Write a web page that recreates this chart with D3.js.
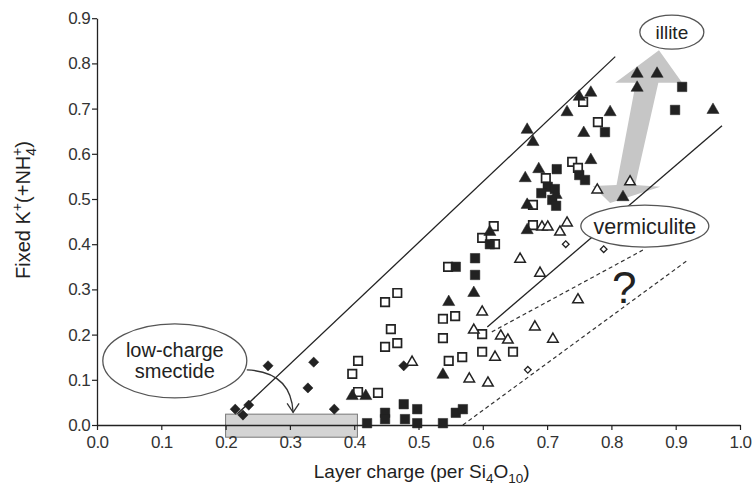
<!DOCTYPE html>
<html>
<head>
<meta charset="utf-8">
<script src="https://cdn.jsdelivr.net/npm/d3@7/dist/d3.min.js"></script>
<style>
  html, body { margin: 0; padding: 0; background: #fff; }
  svg { display: block; font-family: "Liberation Sans", Arial, Helvetica, sans-serif; }
</style>
</head>
<body>
<svg id="chart" width="754" height="491"></svg>
<script>
// Layer charge (x) vs fixed K+(+NH4+) (y), one array per sample group
const xTicks = [0.0, 0.1, 0.2, 0.3, 0.4, 0.5, 0.6, 0.7, 0.8, 0.9, 1.0];
const yTicks = [0.0, 0.1, 0.2, 0.3, 0.4, 0.5, 0.6, 0.7, 0.8, 0.9];

const filledDiamonds = [
  [0.215, 0.035], [0.227, 0.022], [0.236, 0.044], [0.266, 0.131],
  [0.337, 0.139], [0.328, 0.082], [0.369, 0.035], [0.477, 0.131]
];
const openDiamonds = [
  [0.729, 0.400], [0.788, 0.389], [0.670, 0.122]
];
const filledSquares = [
  [0.420, 0.004], [0.448, 0.027], [0.448, 0.013], [0.477, 0.046],
  [0.498, 0.035], [0.479, 0.013], [0.498, 0.004], [0.538, 0.004],
  [0.558, 0.027], [0.569, 0.035], [0.558, 0.350], [0.588, 0.369],
  [0.588, 0.332], [0.611, 0.400], [0.715, 0.566], [0.701, 0.527],
  [0.712, 0.522], [0.708, 0.498], [0.714, 0.485], [0.691, 0.513],
  [0.750, 0.553], [0.759, 0.542], [0.790, 0.648], [0.910, 0.748],
  [0.899, 0.697]
];
const openSquares = [
  [0.467, 0.292], [0.448, 0.272], [0.457, 0.212], [0.467, 0.181],
  [0.448, 0.173], [0.406, 0.142], [0.397, 0.113], [0.406, 0.073],
  [0.437, 0.071], [0.538, 0.235], [0.557, 0.241], [0.538, 0.192],
  [0.547, 0.142], [0.568, 0.150], [0.546, 0.350], [0.599, 0.201],
  [0.599, 0.162], [0.647, 0.162], [0.617, 0.440], [0.599, 0.414],
  [0.619, 0.400], [0.698, 0.546], [0.678, 0.487], [0.678, 0.442],
  [0.739, 0.582], [0.748, 0.569], [0.756, 0.715], [0.779, 0.670]
];
const filledTriangles = [
  [0.397, 0.064], [0.418, 0.064], [0.538, 0.111], [0.547, 0.272],
  [0.586, 0.292], [0.611, 0.427], [0.669, 0.653], [0.678, 0.626],
  [0.666, 0.546], [0.687, 0.566], [0.669, 0.487], [0.714, 0.509],
  [0.669, 0.431], [0.731, 0.692], [0.750, 0.726], [0.768, 0.735],
  [0.798, 0.692], [0.757, 0.646], [0.768, 0.586], [0.818, 0.504],
  [0.840, 0.777], [0.871, 0.777], [0.840, 0.746], [0.958, 0.697]
];
const openTriangles = [
  [0.490, 0.139], [0.579, 0.102], [0.586, 0.210], [0.599, 0.250],
  [0.628, 0.197], [0.639, 0.188], [0.619, 0.150], [0.608, 0.093],
  [0.658, 0.367], [0.689, 0.336], [0.681, 0.217], [0.709, 0.190],
  [0.748, 0.277], [0.692, 0.438], [0.701, 0.438], [0.720, 0.427],
  [0.731, 0.447], [0.778, 0.520], [0.829, 0.538]
];

// Boundary lines (layer charge, fixed K) end points
const solidLines = [
  [[0.200, 0.000], [0.806, 0.815]],
  [[0.607, 0.217], [0.972, 0.662]]
];
const dashedLines = [
  [[0.614, 0.206], [0.849, 0.387]],
  [[0.569, 0.000], [0.919, 0.365]]
];

const svg = d3.select("#chart");
const x = d3.scaleLinear().domain([0, 1]).range([97, 740]);
const y = d3.scaleLinear().domain([0, 0.9]).range([425, 18.2]);
const ink = "#222";
const font = '"Liberation Sans", Arial, sans-serif';

// Grey double-headed arrow between vermiculite and illite
const arrowOutline = [
  [0.874, 0.829],   // top tip
  [0.910, 0.757],   // top barb right
  [0.873, 0.757],   // shaft top right
  [0.837, 0.531],   // shaft bottom right
  [0.876, 0.527],   // bottom barb right
  [0.798, 0.491],   // bottom tip
  [0.771, 0.529],   // bottom barb left
  [0.808, 0.531],   // shaft bottom left
  [0.838, 0.757],   // shaft top left
  [0.806, 0.757]    // top barb left
];
svg.append("path")
  .attr("d", d3.line().x(d => x(d[0])).y(d => y(d[1]))(arrowOutline) + "Z")
  .attr("fill", "#c6c6c6")
  .attr("stroke", "none");

// Boundary lines
svg.selectAll("line.solid").data(solidLines).join("line")
  .attr("class", "solid")
  .attr("x1", d => x(d[0][0])).attr("y1", d => y(d[0][1]))
  .attr("x2", d => x(d[1][0])).attr("y2", d => y(d[1][1]))
  .attr("stroke", ink).attr("stroke-width", 1.3);
svg.selectAll("line.dashed").data(dashedLines).join("line")
  .attr("class", "dashed")
  .attr("x1", d => x(d[0][0])).attr("y1", d => y(d[0][1]))
  .attr("x2", d => x(d[1][0])).attr("y2", d => y(d[1][1]))
  .attr("stroke", "#333").attr("stroke-width", 1.2)
  .attr("stroke-dasharray", "4,3");

// Low-charge smectite range box on the axis
svg.append("rect")
  .attr("x", x(0.2)).attr("y", y(0.024))
  .attr("width", x(0.405) - x(0.2)).attr("height", y(-0.027) - y(0.024))
  .attr("fill", "#d4d4d4").attr("stroke", "#777").attr("stroke-width", 1);

// Axes
const xAxis = d3.axisBottom(x).tickValues(xTicks).tickFormat(d3.format(".1f"))
  .tickSizeOuter(0).tickSizeInner(5).tickPadding(3);
const yAxis = d3.axisLeft(y).tickValues(yTicks).tickFormat(d3.format(".1f"))
  .tickSizeOuter(0).tickSizeInner(5).tickPadding(2);

const gx = svg.append("g").attr("transform", `translate(0,${y(0)})`).call(xAxis);
const gy = svg.append("g").attr("transform", `translate(${x(0)},0)`).call(yAxis);
[gx, gy].forEach(g => {
  g.select(".domain").attr("stroke", ink).attr("stroke-width", 1.3);
  g.selectAll(".tick line").attr("stroke", ink).attr("stroke-width", 1.2);
  g.selectAll(".tick text").attr("fill", "#333").attr("font-size", 17)
    .attr("font-family", font).attr("letter-spacing", -0.6);
});
gx.selectAll(".tick text").attr("dy", "0.9em");

// Markers
const sq = d3.symbol().type(d3.symbolSquare);
const tri = d3.symbol().type(d3.symbolTriangle);
function plot(data, path, fill, stroke, sw, rotate) {
  svg.append("g").selectAll("path").data(data).join("path")
    .attr("d", path)
    .attr("transform", d => `translate(${x(d[0])},${y(d[1])})${rotate ? " rotate(45)" : ""}`)
    .attr("fill", fill).attr("stroke", stroke).attr("stroke-width", sw);
}
plot(openSquares, sq.size(72)(), "#fff", ink, 1.7, false);
plot(filledSquares, sq.size(90)(), ink, ink, 0.5, false);
plot(openTriangles, tri.size(48)(), "#fff", ink, 1.5, false);
plot(filledTriangles, tri.size(64)(), ink, ink, 0.5, false);
plot(filledDiamonds, sq.size(52)(), ink, ink, 0.5, true);
plot(openDiamonds, sq.size(22)(), "#fff", ink, 1.3, true);

// Labels in ellipses
function bubble(cx, cy, rx, ry, lines, size) {
  svg.append("ellipse").attr("cx", cx).attr("cy", cy).attr("rx", rx).attr("ry", ry)
    .attr("fill", "#fff").attr("stroke", "#555").attr("stroke-width", 1.3);
  const t = svg.append("text").attr("text-anchor", "middle").attr("font-size", size)
    .attr("font-family", font).attr("fill", "#222");
  lines.forEach((s, i) => {
    t.append("tspan").attr("x", cx)
      .attr("y", cy + (i - (lines.length - 1) / 2) * size * 1.05 + size * 0.35)
      .text(s);
  });
}
bubble(x(0.894), y(0.869), 32, 17, ["illite"], 19);
bubble(x(0.852), y(0.440), 64, 21, ["vermiculite"], 21.5);
bubble(x(0.121), y(0.142), 72, 37, ["low-charge", "smectide"], 20);

// Curved pointer from the smectite label to the box
const px0 = x(0.233), py0 = y(0.122);
const tipX = x(0.305), tipY = y(0.028);
svg.append("path")
  .attr("d", `M${px0},${py0} Q${tipX - 2},${py0 + 2} ${tipX},${tipY}`)
  .attr("fill", "none").attr("stroke", "#333").attr("stroke-width", 1.3);
svg.append("path")
  .attr("d", `M${tipX - 6},${tipY - 9} L${tipX},${tipY} L${tipX + 6},${tipY - 9}`)
  .attr("fill", "none").attr("stroke", "#333").attr("stroke-width", 1.3);

// Question mark between the dashed lines
svg.append("text").attr("x", x(0.82)).attr("y", y(0.27))
  .attr("text-anchor", "middle").attr("font-size", 44).attr("font-family", font)
  .attr("fill", "#222").text("?");

// Axis titles
const xt = svg.append("text").attr("x", x(0.505)).attr("y", 478)
  .attr("text-anchor", "middle").attr("font-size", 19).attr("font-family", font).attr("fill", "#222");
xt.append("tspan").text("Layer charge (per Si");
xt.append("tspan").attr("font-size", 13.5).attr("dy", 5).text("4");
xt.append("tspan").attr("dy", -5).text("O");
xt.append("tspan").attr("font-size", 13.5).attr("dy", 5).text("10");
xt.append("tspan").attr("dy", -5).text(")");

const yt = svg.append("text").attr("transform", "translate(30,210) rotate(-90)")
  .attr("text-anchor", "middle").attr("font-size", 20).attr("font-family", font).attr("fill", "#222");
yt.append("tspan").text("Fixed K");
yt.append("tspan").attr("font-size", 14).attr("dy", -8).text("+");
yt.append("tspan").attr("dy", 8).text("(+NH");
yt.append("tspan").attr("font-size", 14).attr("dy", 6).text("4");
yt.append("tspan").attr("font-size", 14).attr("dx", -8).attr("dy", -14).text("+");
yt.append("tspan").attr("dy", 8).text(")");
</script>
</body>
</html>
